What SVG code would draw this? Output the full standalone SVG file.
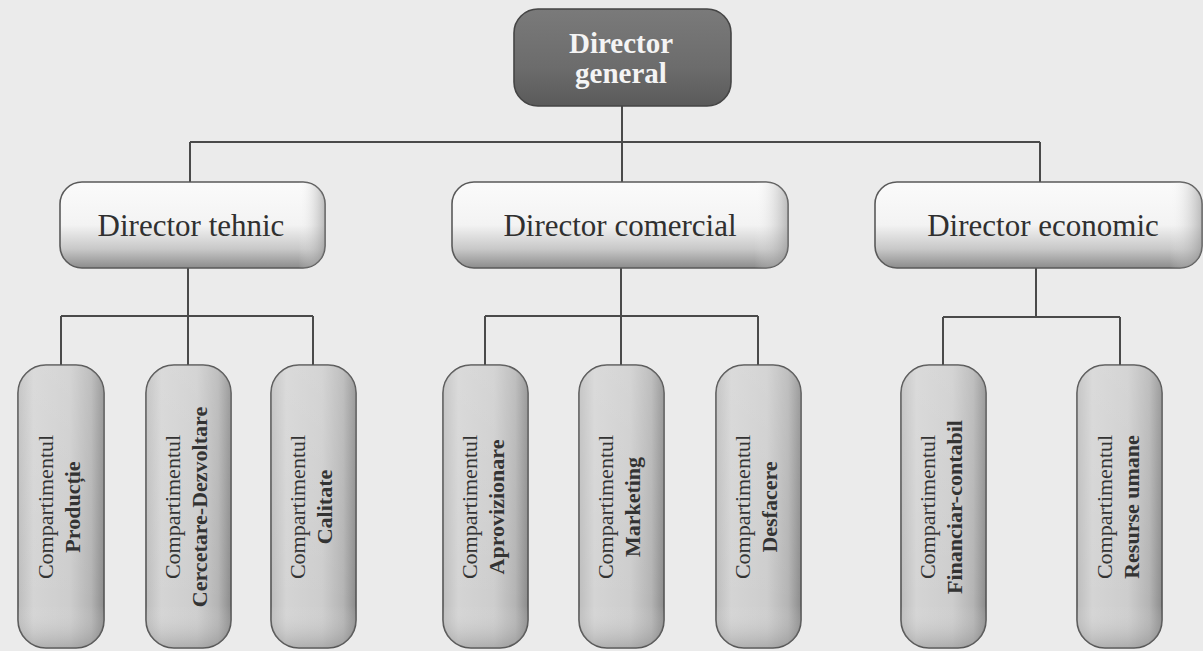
<svg xmlns="http://www.w3.org/2000/svg" width="1203" height="651" viewBox="0 0 1203 651">
  <style>
    .conn { fill: none; stroke: #4a4a4a; stroke-width: 2; }
    .mid rect.body { fill: url(#midFill); stroke: #5a5a5a; stroke-width: 1.6; }
    .mid rect.edge { fill: url(#midEdge); }
    .mid text { font-family: "Liberation Serif", "Times New Roman", serif; font-size: 31px; fill: #303030; text-anchor: middle; }
    .sub rect.body { fill: url(#subFill); stroke: #555; stroke-width: 1.6; }
    .sub rect.shade { fill: url(#subShade); }
    .sub text { font-family: "Liberation Serif", "Times New Roman", serif; font-size: 22px; fill: #333; text-anchor: middle; }
    .sub text.b { font-weight: bold; }
    .top text { font-family: "Liberation Serif", "Times New Roman", serif; font-size: 29px; font-weight: bold; fill: #f4f4f4; text-anchor: middle; }
  </style>
  <defs>
    <linearGradient id="topFill" x1="0" y1="0" x2="0" y2="1">
      <stop offset="0" stop-color="#7a7a7a"/>
      <stop offset="0.6" stop-color="#6c6c6c"/>
      <stop offset="1" stop-color="#5a5a5a"/>
    </linearGradient>
    <linearGradient id="midFill" x1="0" y1="0" x2="0" y2="1">
      <stop offset="0" stop-color="#fbfbfb"/>
      <stop offset="0.5" stop-color="#f3f3f3"/>
      <stop offset="0.78" stop-color="#c8c8c8"/>
      <stop offset="1" stop-color="#8c8c8c"/>
    </linearGradient>
    <linearGradient id="midEdge" x1="0" y1="0" x2="1" y2="0">
      <stop offset="0" stop-color="#ffffff" stop-opacity="0"/>
      <stop offset="0.9" stop-color="#ffffff" stop-opacity="0"/>
      <stop offset="1" stop-color="#8a8a8a" stop-opacity="0.55"/>
    </linearGradient>
    <linearGradient id="subFill" x1="0" y1="0" x2="1" y2="0">
      <stop offset="0" stop-color="#bdbdbd"/>
      <stop offset="0.18" stop-color="#d4d4d4"/>
      <stop offset="0.6" stop-color="#cdcdcd"/>
      <stop offset="0.85" stop-color="#b4b4b4"/>
      <stop offset="1" stop-color="#8c8c8c"/>
    </linearGradient>
    <linearGradient id="subShade" x1="0" y1="0" x2="0" y2="1">
      <stop offset="0" stop-color="#ffffff" stop-opacity="0.15"/>
      <stop offset="0.85" stop-color="#ffffff" stop-opacity="0"/>
      <stop offset="1" stop-color="#6e6e6e" stop-opacity="0.35"/>
    </linearGradient>
  </defs>

  <!-- paper -->
  <rect x="0" y="0" width="1203" height="651" fill="#ebebeb"/>

  <!-- connectors -->
  <g id="connectors">
    <path class="conn" d="M622 106 V142 M190 142 H1040 M190 142 V182 M622 142 V182 M1040 142 V182"/>
    <path class="conn" d="M188 268 V316 M61 316 H313 M61 316 V365 M188 316 V365 M313 316 V365"/>
    <path class="conn" d="M621 268 V316 M485 316 H758 M485 316 V365 M621 316 V365 M758 316 V365"/>
    <path class="conn" d="M1036 268 V317 M943 317 H1120 M943 317 V365 M1120 317 V365"/>
  </g>

  <!-- top level -->
  <g id="director-general" class="top">
    <rect x="514" y="9" width="217" height="97" rx="24" fill="url(#topFill)" stroke="#454545" stroke-width="1.6"/>
    <text x="621" y="53">Director</text>
    <text x="621" y="83">general</text>
  </g>

  <!-- second level -->
  <g id="director-tehnic" class="mid">
    <rect class="body" x="60" y="182" width="265" height="86" rx="22"/>
    <rect class="edge" x="60" y="182" width="265" height="86" rx="22"/>
    <text x="191" y="236">Director tehnic</text>
  </g>
  <g id="director-comercial" class="mid">
    <rect class="body" x="452" y="182" width="336" height="86" rx="22"/>
    <rect class="edge" x="452" y="182" width="336" height="86" rx="22"/>
    <text x="620" y="236">Director comercial</text>
  </g>
  <g id="director-economic" class="mid">
    <rect class="body" x="875" y="182" width="327" height="86" rx="22"/>
    <rect class="edge" x="875" y="182" width="327" height="86" rx="22"/>
    <text x="1043" y="236">Director economic</text>
  </g>

  <!-- departments -->
  <g id="comp-productie" class="sub">
    <rect class="body" x="18" y="365" width="86" height="283" rx="28"/>
    <rect class="shade" x="18" y="365" width="86" height="283" rx="28"/>
    <g transform="translate(61,507) rotate(-90)">
      <text x="0" y="-8">Compartimentul</text>
      <text class="b" x="0" y="19">Producție</text>
    </g>
  </g>
  <g id="comp-cercetare" class="sub">
    <rect class="body" x="146" y="365" width="85" height="283" rx="28"/>
    <rect class="shade" x="146" y="365" width="85" height="283" rx="28"/>
    <g transform="translate(188,507) rotate(-90)">
      <text x="0" y="-8">Compartimentul</text>
      <text class="b" x="0" y="19">Cercetare-Dezvoltare</text>
    </g>
  </g>
  <g id="comp-calitate" class="sub">
    <rect class="body" x="271" y="365" width="85" height="283" rx="28"/>
    <rect class="shade" x="271" y="365" width="85" height="283" rx="28"/>
    <g transform="translate(313,507) rotate(-90)">
      <text x="0" y="-8">Compartimentul</text>
      <text class="b" x="0" y="19">Calitate</text>
    </g>
  </g>
  <g id="comp-aprovizionare" class="sub">
    <rect class="body" x="443" y="365" width="85" height="283" rx="28"/>
    <rect class="shade" x="443" y="365" width="85" height="283" rx="28"/>
    <g transform="translate(485,507) rotate(-90)">
      <text x="0" y="-8">Compartimentul</text>
      <text class="b" x="0" y="19">Aprovizionare</text>
    </g>
  </g>
  <g id="comp-marketing" class="sub">
    <rect class="body" x="579" y="365" width="85" height="283" rx="28"/>
    <rect class="shade" x="579" y="365" width="85" height="283" rx="28"/>
    <g transform="translate(621,507) rotate(-90)">
      <text x="0" y="-8">Compartimentul</text>
      <text class="b" x="0" y="19">Marketing</text>
    </g>
  </g>
  <g id="comp-desfacere" class="sub">
    <rect class="body" x="716" y="365" width="85" height="283" rx="28"/>
    <rect class="shade" x="716" y="365" width="85" height="283" rx="28"/>
    <g transform="translate(758,507) rotate(-90)">
      <text x="0" y="-8">Compartimentul</text>
      <text class="b" x="0" y="19">Desfacere</text>
    </g>
  </g>
  <g id="comp-financiar" class="sub">
    <rect class="body" x="901" y="365" width="85" height="283" rx="28"/>
    <rect class="shade" x="901" y="365" width="85" height="283" rx="28"/>
    <g transform="translate(943,507) rotate(-90)">
      <text x="0" y="-8">Compartimentul</text>
      <text class="b" x="0" y="19">Financiar-contabil</text>
    </g>
  </g>
  <g id="comp-resurse" class="sub">
    <rect class="body" x="1077" y="365" width="85" height="283" rx="28"/>
    <rect class="shade" x="1077" y="365" width="85" height="283" rx="28"/>
    <g transform="translate(1120,507) rotate(-90)">
      <text x="0" y="-8">Compartimentul</text>
      <text class="b" x="0" y="19">Resurse umane</text>
    </g>
  </g>
</svg>
